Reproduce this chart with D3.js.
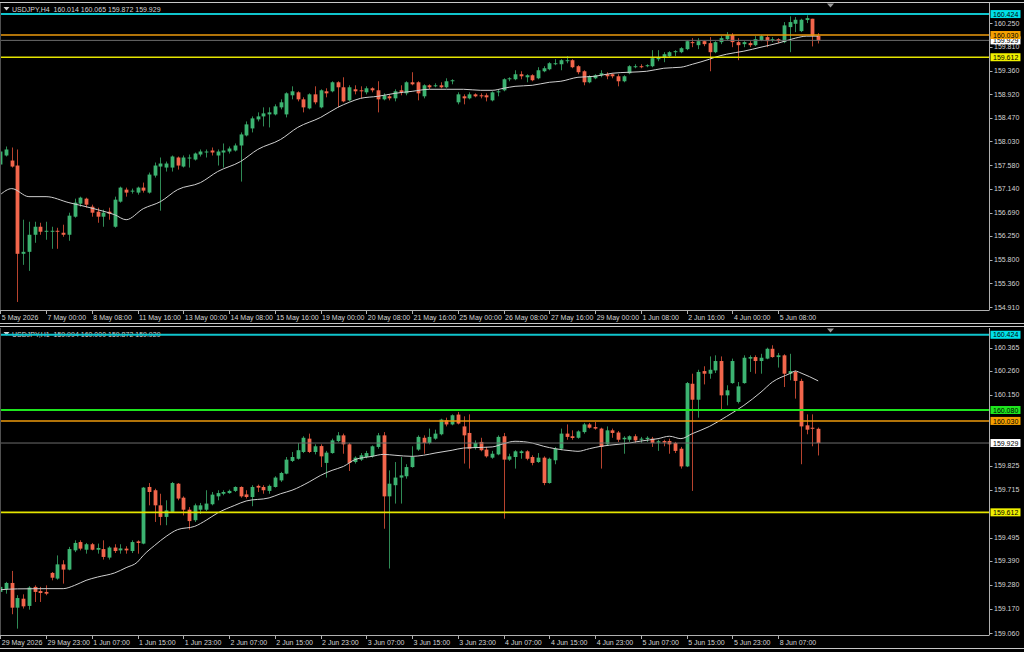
<!DOCTYPE html>
<html>
<head>
<meta charset="utf-8">
<script src="https://cdn.jsdelivr.net/npm/d3@7"></script>
<style>
  html, body { margin: 0; padding: 0; background: #000; }
  svg { display: block; }
  text { font-family: "Liberation Sans", Arial, sans-serif; }
</style>
</head>
<body>
<svg id="chart_svg"></svg>
<script>
var symbol = 'USDJPY';

// H4 candles, [open, high, low, close]
var h4Bars = [
  [157.594,157.933,157.556,157.839],[157.764,157.933,157.745,157.877],[157.669,157.914,157.537,157.556],[157.575,157.877,155.009,155.915],
  [155.915,156.556,155.707,155.952],[155.952,156.518,155.594,156.273],[156.273,156.518,156.122,156.424],[156.424,156.499,156.273,156.330],
  [156.330,156.518,156.179,156.348],[156.330,156.424,156.009,156.348],[156.348,156.405,156.009,156.330],[156.311,156.462,156.235,156.273],
  [156.273,156.688,156.160,156.632],[156.613,156.952,156.594,156.877],[156.858,156.990,156.801,156.971],[156.952,156.971,156.782,156.839],
  [156.801,156.839,156.613,156.688],[156.707,156.782,156.499,156.613],[156.613,156.745,156.424,156.688],[156.707,156.782,156.556,156.669],
  [156.424,156.990,156.405,156.933],[156.896,157.179,156.877,157.160],[157.122,157.160,156.990,157.066],[157.084,157.141,157.047,157.103],
  [157.066,157.179,157.028,157.160],[157.160,157.254,157.066,157.103],[157.066,157.443,157.047,157.405],[157.386,157.632,157.349,157.575],
  [157.556,157.726,156.726,157.613],[157.537,157.650,157.462,157.613],[157.537,157.764,157.462,157.745],[157.726,157.745,157.499,157.575],
  [157.556,157.764,157.537,157.726],[157.707,157.782,157.537,157.726],[157.688,157.820,157.669,157.801],[157.782,157.877,157.745,157.839],
  [157.820,157.877,157.726,157.839],[157.858,157.914,157.764,157.820],[157.764,157.877,157.575,157.839],[157.820,157.990,157.537,157.858],
  [157.839,157.933,157.801,157.895],[157.858,157.990,157.839,157.952],[157.952,158.198,157.273,158.160],[158.141,158.405,158.122,158.349],
  [158.273,158.499,158.198,158.462],[158.443,158.575,158.405,158.499],[158.499,158.669,158.311,158.556],[158.537,158.669,158.292,158.575],
  [158.537,158.726,158.518,158.688],[158.669,158.820,158.632,158.764],[158.537,158.952,158.480,158.933],[158.896,159.065,158.820,158.971],
  [158.952,158.971,158.782,158.820],[158.820,158.858,158.575,158.669],[158.650,158.933,158.632,158.914],[158.914,159.065,158.726,158.764],
  [158.669,159.009,158.650,158.990],[158.971,159.028,158.858,158.933],[158.971,159.160,158.952,159.141],[159.141,159.160,158.669,159.047],
  [159.047,159.235,158.764,158.782],[158.801,159.084,158.782,159.047],[159.009,159.084,158.914,158.971],[158.990,159.065,158.839,158.971],
  [158.952,159.065,158.914,159.028],[159.028,159.047,158.952,158.990],[158.990,159.160,158.575,158.820],[158.820,158.933,158.801,158.896],
  [158.877,158.914,158.801,158.839],[158.839,159.009,158.782,158.971],[158.990,159.084,158.896,158.952],[158.933,159.160,158.896,159.141],
  [159.141,159.330,159.084,159.103],[159.141,159.160,158.801,158.933],[158.877,159.103,158.839,159.084],[159.084,159.103,159.009,159.047],
  [159.065,159.122,159.047,159.084],[159.084,159.141,159.028,159.047],[159.047,159.216,159.028,159.160],[159.160,159.198,159.103,159.179],
  [158.764,158.952,158.726,158.914],[158.877,158.914,158.726,158.839],[158.839,158.952,158.820,158.914],[158.914,158.933,158.858,158.877],
  [158.896,158.933,158.839,158.877],[158.896,158.933,158.782,158.858],[158.801,158.971,158.782,158.952],[158.952,159.009,158.877,158.971],
  [158.990,159.216,158.971,159.198],[159.198,159.235,159.160,159.216],[159.198,159.367,159.179,159.292],[159.292,159.348,159.198,159.254],
  [159.235,159.292,159.141,159.273],[159.273,159.292,159.160,159.179],[159.216,159.424,159.198,159.367],[159.348,159.443,159.330,159.405],
  [159.386,159.518,159.367,159.499],[159.480,159.575,159.462,159.499],[159.480,159.575,159.367,159.556],[159.537,159.632,159.499,159.556],
  [159.556,159.575,159.405,159.424],[159.443,159.462,159.292,159.330],[159.348,159.367,159.084,159.141],[159.141,159.273,159.122,159.254],
  [159.216,159.292,159.198,159.273],[159.273,159.367,159.235,159.311],[159.292,159.330,159.198,159.254],[159.292,159.311,159.216,159.254],
  [159.254,159.292,159.065,159.160],[159.160,159.273,159.141,159.254],[159.311,159.462,159.292,159.443],[159.424,159.480,159.405,159.443],
  [159.443,159.480,159.405,159.424],[159.443,159.480,159.424,159.462],[159.443,159.745,159.424,159.594],[159.575,159.745,159.537,159.613],
  [159.613,159.707,159.518,159.669],[159.632,159.726,159.613,159.707],[159.707,159.745,159.632,159.726],[159.707,159.801,159.688,159.782],
  [159.764,159.933,159.745,159.914],[159.896,159.971,159.801,159.877],[159.839,159.971,159.764,159.914],[159.914,159.933,159.820,159.858],
  [159.877,159.990,159.348,159.707],[159.707,159.914,159.688,159.896],[159.896,160.009,159.858,159.971],[159.952,160.084,159.933,160.028],
  [160.028,160.065,159.801,159.896],[159.896,159.971,159.556,159.839],[159.858,159.914,159.801,159.896],[159.877,159.914,159.801,159.839],
  [159.839,160.009,159.820,159.952],[159.933,160.028,159.914,160.009],[159.990,160.028,159.801,159.914],[159.933,159.990,159.896,159.952],
  [159.952,159.971,159.877,159.914],[159.896,160.273,159.877,160.211],[160.179,160.380,159.707,160.273],[160.241,160.367,160.084,160.317],
  [160.103,160.336,160.084,160.317],[160.311,160.399,160.254,160.348],[160.336,160.336,159.815,160.014],[160.014,160.065,159.872,159.929]
];

// H1 candles, [open, high, low, close]
var h1Bars = [
  [159.248,159.294,159.240,159.271],[159.261,159.294,159.240,159.289],[159.289,159.344,159.146,159.176],[159.176,159.233,159.080,159.220],
  [159.217,159.237,159.172,159.182],[159.184,159.274,159.167,159.268],[159.271,159.278,159.202,159.248],[159.252,159.271,159.202,159.243],
  [159.248,159.278,159.233,159.240],[159.335,159.339,159.301,159.313],[159.309,159.415,159.304,159.374],[159.374,159.393,159.286,159.350],
  [159.350,159.454,159.347,159.444],[159.438,159.484,159.430,159.472],[159.476,159.484,159.438,159.446],[159.441,159.472,159.423,159.466],
  [159.466,159.472,159.438,159.441],[159.441,159.469,159.423,159.449],[159.444,159.484,159.396,159.408],[159.405,159.457,159.396,159.451],
  [159.451,159.466,159.426,159.435],[159.438,159.466,159.423,159.447],[159.446,159.457,159.423,159.438],[159.435,159.484,159.426,159.476],
  [159.479,159.484,159.423,159.472],[159.469,159.728,159.466,159.725],[159.728,159.746,159.644,159.705],[159.713,159.720,159.568,159.644],
  [159.644,159.697,159.553,159.591],[159.591,159.667,159.553,159.621],[159.614,159.751,159.609,159.746],[159.743,159.746,159.667,159.675],
  [159.679,159.685,159.598,159.624],[159.624,159.636,159.533,159.572],[159.576,159.652,159.568,159.644],[159.624,159.655,159.605,159.644],
  [159.624,159.713,159.618,159.652],[159.649,159.705,159.644,159.693],[159.685,159.713,159.667,159.700],[159.697,159.713,159.690,159.705],
  [159.700,159.716,159.697,159.710],[159.710,159.731,159.705,159.728],[159.728,159.731,159.679,159.685],[159.694,159.713,159.675,159.682],
  [159.682,159.736,159.640,159.728],[159.733,159.739,159.705,159.725],[159.728,159.736,159.697,159.713],[159.710,159.739,159.697,159.733],
  [159.728,159.777,159.725,159.771],[159.758,159.797,159.751,159.792],[159.789,159.865,159.786,159.853],[159.847,159.888,159.842,159.865],
  [159.857,159.929,159.853,159.896],[159.888,159.960,159.883,159.953],[159.949,159.972,159.883,159.888],[159.888,159.923,159.877,159.914],
  [159.915,159.923,159.819,159.868],[159.838,159.893,159.771,159.885],[159.883,159.949,159.880,159.941],[159.938,159.979,159.932,159.964],
  [159.964,159.972,159.880,159.923],[159.923,159.929,159.801,159.838],[159.842,159.868,159.835,159.862],[159.853,159.883,159.847,159.873],
  [159.865,159.893,159.859,159.883],[159.868,159.918,159.862,159.914],[159.911,159.975,159.903,159.964],[159.964,159.979,159.537,159.685],
  [159.685,159.804,159.355,159.743],[159.736,159.842,159.652,159.771],[159.771,159.865,159.652,159.781],[159.777,159.832,159.766,159.819],
  [159.819,159.914,159.816,159.865],[159.899,159.964,159.893,159.957],[159.953,159.964,159.880,159.929],[159.929,159.995,159.923,159.957],
  [159.949,159.990,159.944,159.972],[159.969,160.040,159.964,160.036],[160.033,160.045,160.005,160.014],[160.014,160.060,160.010,160.056],
  [160.059,160.071,160.014,160.018],[160.005,160.051,159.835,159.964],[159.975,160.060,159.812,159.903],[159.906,159.941,159.899,159.929],
  [159.934,159.953,159.891,159.896],[159.899,159.911,159.862,159.868],[159.862,159.893,159.857,159.880],[159.877,159.964,159.873,159.957],
  [159.960,159.975,159.583,159.853],[159.853,159.880,159.847,159.868],[159.865,159.896,159.812,159.891],[159.883,159.896,159.857,159.891],
  [159.891,159.896,159.850,159.857],[159.865,159.873,159.827,159.838],[159.842,159.883,159.838,159.862],[159.862,159.868,159.736,159.746],
  [159.746,159.862,159.743,159.857],[159.850,159.911,159.832,159.903],[159.903,159.995,159.896,159.972],[159.972,160.014,159.944,159.957],
  [159.960,159.987,159.944,159.952],[159.953,159.987,159.949,159.982],[159.979,160.021,159.972,160.014],[160.014,160.021,159.995,159.999],
  [160.002,160.025,159.990,159.995],[159.995,159.999,159.812,159.911],[159.923,160.005,159.918,159.987],[159.987,159.995,159.953,159.975],
  [159.977,159.984,159.934,159.944],[159.946,159.960,159.880,159.953],[159.944,159.964,159.934,159.960],[159.960,159.969,159.929,159.941],
  [159.944,159.957,159.929,159.949],[159.947,159.960,159.934,159.953],[159.949,159.957,159.911,159.929],[159.931,159.944,159.893,159.937],
  [159.938,159.944,159.914,159.931],[159.938,159.949,159.880,159.923],[159.929,159.934,159.883,159.893],[159.903,159.911,159.812,159.822],
  [159.822,160.208,159.819,160.203],[160.200,160.246,159.710,160.127],[160.127,160.264,160.045,160.254],[160.258,160.280,160.197,160.246],
  [160.246,160.325,160.223,160.264],[160.261,160.330,160.249,160.304],[160.304,160.325,160.078,160.147],[160.147,160.193,160.101,160.170],
  [160.203,160.315,160.200,160.304],[160.117,160.208,160.110,160.188],[160.203,160.330,160.200,160.319],[160.315,160.330,160.254,160.322],
  [160.322,160.330,160.246,160.304],[160.304,160.337,160.246,160.319],[160.315,160.365,160.312,160.360],[160.360,160.376,160.319,160.322],
  [160.322,160.341,160.274,160.330],[160.330,160.335,160.185,160.246],[160.246,160.337,160.216,160.258],[160.254,160.261,160.132,160.213],
  [160.213,160.223,159.832,160.005],[160.010,160.060,159.969,159.990],[159.999,160.060,159.914,159.994],[159.994,160.000,159.872,159.929]
];

// Moving average, read at these bar positions
var maH4Bar = [0,2,5,8,12,15,17,20,22,25,28,31,35,38,42,45,49,52,56,59,61,63,66,69,72,75,78,81,84,86,88,90,93,96,98,101,104,107,110,113,116,119,121,124,125,127,130,133,136,139,141,143];
var maH4Val = [157.028,157.141,156.990,156.990,156.877,156.801,156.745,156.650,156.556,156.764,156.896,157.122,157.254,157.462,157.650,157.877,158.065,158.292,158.480,158.669,158.764,158.839,158.877,158.933,158.971,159.009,159.009,159.009,158.990,158.990,159.028,159.065,159.084,159.141,159.160,159.235,159.254,159.311,159.330,159.348,159.405,159.424,159.480,159.575,159.613,159.669,159.726,159.801,159.877,159.971,160.009,160.009];
var maH1Bar = [0,3,8,11,13,15,17,20,22,24,25,27,29,31,34,36,38,41,43,47,49,51,54,56,58,60,62,65,67,69,72,74,76,79,81,83,86,88,90,93,95,97,100,101,103,105,108,110,112,115,117,119,121,124,127,130,133,135,138,139,140,143];
var maH1Val = [159.258,159.262,159.263,159.263,159.278,159.301,159.316,159.335,159.359,159.385,159.415,159.461,159.502,159.533,159.548,159.576,159.609,159.644,159.664,159.678,159.697,159.713,159.751,159.781,159.804,159.822,159.853,159.868,159.877,159.873,159.868,159.873,159.883,159.896,159.906,159.908,159.911,159.926,159.937,159.929,159.914,159.903,159.893,159.891,159.903,159.914,159.923,159.929,159.938,159.949,159.960,159.949,159.972,160.005,160.051,160.101,160.162,160.208,160.246,160.258,160.249,160.213];

// Time axis: bar index of each label and its text
var h4TickBar = [0,8,16,24,32,40,48,56,64,72,80,88,96,104,112,120,128,136];
var h4TickLabels = ['5 May 2026','7 May 00:00','8 May 08:00','11 May 16:00','13 May 00:00','14 May 08:00','15 May 16:00','19 May 00:00','20 May 08:00','21 May 16:00','25 May 00:00','26 May 08:00','27 May 16:00','29 May 00:00','1 Jun 08:00','2 Jun 16:00','4 Jun 00:00','5 Jun 08:00'];
var h1TickBar = [0,8,16,24,32,40,48,56,64,72,80,88,96,104,112,120,128,136];
var h1TickLabels = ['29 May 2026','29 May 23:00','1 Jun 07:00','1 Jun 15:00','1 Jun 23:00','2 Jun 07:00','2 Jun 15:00','2 Jun 23:00','3 Jun 07:00','3 Jun 15:00','3 Jun 23:00','4 Jun 07:00','4 Jun 15:00','4 Jun 23:00','5 Jun 07:00','5 Jun 15:00','5 Jun 23:00','8 Jun 07:00'];

// Price axis labels
var h4PriceTicks = [160.250,159.810,159.360,158.920,158.470,158.030,157.580,157.140,156.690,156.250,155.800,155.360,154.910];
var h1PriceTicks = [160.365,160.260,160.150,159.825,159.715,159.495,159.390,159.280,159.170,159.060];

// Visible price range of each window
var h4PriceRange = [154.858, 160.632];
var h1PriceRange = [159.051, 160.455];

// Horizontal levels and current bid
var h4Levels = [160.424, 160.030, 159.612];
var h1Levels = [160.424, 160.080, 160.030, 159.612];
var bidPrice = 159.929;

// ---- Styles ----
var colors = {
    bg: '#000000',
    frame: '#b0b0b0',
    text: '#d4d4d4',
    bullBody: '#3cb371',
    bullWick: '#2f8a55',
    bearBody: '#f2664c',
    bearWick: '#b8432e',
    ma: '#cfcfcf',
    bid: '#6c6c6c'
};
// line colour / width, and the colour of its tag on the price axis
var levelStyle = {
    '160.424': { color: '#10c4cc', tag: '#00e0e8', width: 2 },
    '160.080': { color: '#1ee61e', tag: '#1ee61e', width: 2 },
    '160.030': { color: '#ec9a0c', tag: '#f5a000', width: 1.5 },
    '159.612': { color: '#e4e400', tag: '#f0f000', width: 1.6 }
};

var dims = {
    width: 1024,
    height: 652,
    axisX: 989,
    lastBarX: 818.2,
    firstBarX: 0.3,
    body: 3.8,
    font: 7
};

var svg = d3.select('#chart_svg')
            .attr('width', dims.width)
            .attr('height', dims.height);

function init_frame() {
    svg.append('rect')
       .attr('width', dims.width)
       .attr('height', dims.height)
       .attr('fill', colors.bg);

    // Window edges and the splitter between the two charts
    [2.5, 323.5, 326.5, 648.5].forEach(function (y) {
        svg.append('line')
           .attr('x1', 0).attr('x2', dims.width)
           .attr('y1', y).attr('y2', y)
           .attr('stroke', '#c8c8c8')
           .attr('stroke-width', 1);
    });
}

function draw_panel(p) {
    var g = svg.append('g').attr('id', p.id);

    var x = d3.scaleLinear()
              .domain([0, p.bars.length - 1])
              .range([dims.firstBarX, dims.lastBarX]);
    var y = d3.scaleLinear()
              .domain(p.priceRange)
              .range([p.bottom, p.top]);

    var clipId = 'clip_' + p.id;
    g.append('clipPath')
     .attr('id', clipId)
     .append('rect')
       .attr('x', 0)
       .attr('y', p.top)
       .attr('width', dims.axisX)
       .attr('height', p.bottom - p.top);

    // Header with the symbol and last bar prices (drawn first, the lines go over it)
    var last = p.bars[p.bars.length - 1];
    var fmt = d3.format('.3f');
    g.append('path')
     .attr('d', 'M3.5,' + (p.top + 4) + 'L9.5,' + (p.top + 4) + 'L6.5,' + (p.top + 7.5) + 'Z')
     .attr('fill', colors.text);
    g.append('text')
     .attr('x', 12)
     .attr('y', p.top + 8.5)
     .attr('font-size', dims.font + 'px')
     .attr('fill', colors.text)
     .attr('xml:space', 'preserve')
     .text(symbol + ',' + p.tf + '  ' + fmt(last[0]) + ' ' + fmt(last[1]) + ' ' + fmt(last[2]) + ' ' + fmt(last[3]));

    var plot = g.append('g').attr('clip-path', 'url(#' + clipId + ')');

    // Candles: wick then body
    var candles = plot.selectAll('g.candle')
                      .data(p.bars)
                      .enter()
                      .append('g')
                      .attr('class', 'candle');
    candles.append('line')
           .attr('x1', function (d, i) { return Math.round(x(i)) + 0.5; })
           .attr('x2', function (d, i) { return Math.round(x(i)) + 0.5; })
           .attr('y1', function (d) { return y(d[1]); })
           .attr('y2', function (d) { return y(d[2]); })
           .attr('stroke', function (d) { return d[3] >= d[0] ? colors.bullWick : colors.bearWick; })
           .attr('stroke-width', 1);
    candles.append('rect')
           .attr('x', function (d, i) { return Math.round(x(i)) + 0.5 - dims.body / 2; })
           .attr('y', function (d) { return y(Math.max(d[0], d[3])); })
           .attr('width', dims.body)
           .attr('height', function (d) { return Math.max(1, Math.abs(y(d[0]) - y(d[3]))); })
           .attr('fill', function (d) { return d[3] >= d[0] ? colors.bullBody : colors.bearBody; });

    // Moving average
    var maLine = d3.line()
                   .x(function (d) { return x(d[0]); })
                   .y(function (d) { return y(d[1]); })
                   .curve(d3.curveMonotoneX);
    plot.append('path')
        .datum(p.maBar.map(function (b, i) { return [b, p.maVal[i]]; }))
        .attr('d', maLine)
        .attr('fill', 'none')
        .attr('stroke', colors.ma)
        .attr('stroke-width', 1);

    // Bid line and the horizontal levels
    plot.append('line')
        .attr('x1', 0).attr('x2', dims.axisX)
        .attr('y1', y(bidPrice)).attr('y2', y(bidPrice))
        .attr('stroke', colors.bid)
        .attr('stroke-width', 1);
    plot.selectAll('line.level')
        .data(p.levels)
        .enter()
        .append('line')
          .attr('class', 'level')
          .attr('x1', 0).attr('x2', dims.axisX)
          .attr('y1', function (d) { return y(d); })
          .attr('y2', function (d) { return y(d); })
          .attr('stroke', function (d) { return levelStyle[fmt(d)].color; })
          .attr('stroke-width', function (d) { return levelStyle[fmt(d)].width; });

    // Frame: right price axis, bottom time axis, left edge
    g.append('line')
     .attr('x1', dims.axisX + 0.5).attr('x2', dims.axisX + 0.5)
     .attr('y1', p.top).attr('y2', p.bottom)
     .attr('stroke', colors.frame);
    g.append('line')
     .attr('x1', 0).attr('x2', dims.axisX + 0.5)
     .attr('y1', p.bottom + 0.5).attr('y2', p.bottom + 0.5)
     .attr('stroke', colors.frame);
    g.append('line')
     .attr('x1', 0.5).attr('x2', 0.5)
     .attr('y1', p.top).attr('y2', p.bottom)
     .attr('stroke', '#505050');

    // Price axis
    var yAxis = g.append('g');
    yAxis.selectAll('line')
         .data(p.priceTicks)
         .enter()
         .append('line')
           .attr('x1', dims.axisX + 0.5).attr('x2', dims.axisX + 3.5)
           .attr('y1', function (d) { return Math.round(y(d)) + 0.5; })
           .attr('y2', function (d) { return Math.round(y(d)) + 0.5; })
           .attr('stroke', colors.frame);
    yAxis.selectAll('text')
         .data(p.priceTicks)
         .enter()
         .append('text')
           .attr('x', dims.axisX + 5)
           .attr('y', function (d) { return y(d) + 2.5; })
           .attr('font-size', dims.font + 'px')
           .attr('fill', colors.text)
           .text(function (d) { return fmt(d); });

    // Coloured price tags: bid first so the level tags sit on top of it
    var tags = [{ v: bidPrice, fill: '#ffffff' }].concat(
        p.levels.map(function (v) { return { v: v, fill: levelStyle[fmt(v)].tag }; }));
    var tag = g.selectAll('g.tag')
               .data(tags)
               .enter()
               .append('g')
               .attr('class', 'tag');
    tag.append('rect')
       .attr('x', dims.axisX + 1.5)
       .attr('y', function (d) { return y(d.v) - 4; })
       .attr('width', 30)
       .attr('height', 8)
       .attr('fill', function (d) { return d.fill; });
    tag.append('text')
       .attr('x', dims.axisX + 4)
       .attr('y', function (d) { return y(d.v) + 2.6; })
       .attr('font-size', dims.font + 'px')
       .attr('fill', '#000')
       .text(function (d) { return fmt(d.v); });

    // Time axis
    var xAxis = g.append('g');
    xAxis.selectAll('line')
         .data(p.tickBar)
         .enter()
         .append('line')
           .attr('x1', function (d) { return Math.round(x(d)) + 0.5; })
           .attr('x2', function (d) { return Math.round(x(d)) + 0.5; })
           .attr('y1', p.bottom).attr('y2', p.bottom + 4)
           .attr('stroke', colors.frame);
    xAxis.selectAll('text')
         .data(p.tickBar)
         .enter()
         .append('text')
           .attr('x', function (d) { return x(d) + 1.5; })
           .attr('y', p.bottom + 9.5)
           .attr('font-size', dims.font + 'px')
           .attr('fill', colors.text)
           .text(function (d, i) { return p.tickLabels[i]; });

    // Chart shift marker
    g.append('path')
     .attr('d', 'M827,' + (p.top + 0.5) + 'L834,' + (p.top + 0.5) + 'L830.5,' + (p.top + 4.5) + 'Z')
     .attr('fill', '#9a9a9a');
}

init_frame();

draw_panel({
    id: 'h4', tf: 'H4', top: 3, bottom: 310,
    bars: h4Bars, maBar: maH4Bar, maVal: maH4Val,
    priceRange: h4PriceRange, priceTicks: h4PriceTicks, levels: h4Levels,
    tickBar: h4TickBar, tickLabels: h4TickLabels
});
draw_panel({
    id: 'h1', tf: 'H1', top: 328, bottom: 635,
    bars: h1Bars, maBar: maH1Bar, maVal: maH1Val,
    priceRange: h1PriceRange, priceTicks: h1PriceTicks, levels: h1Levels,
    tickBar: h1TickBar, tickLabels: h1TickLabels
});
</script>
</body>
</html>
